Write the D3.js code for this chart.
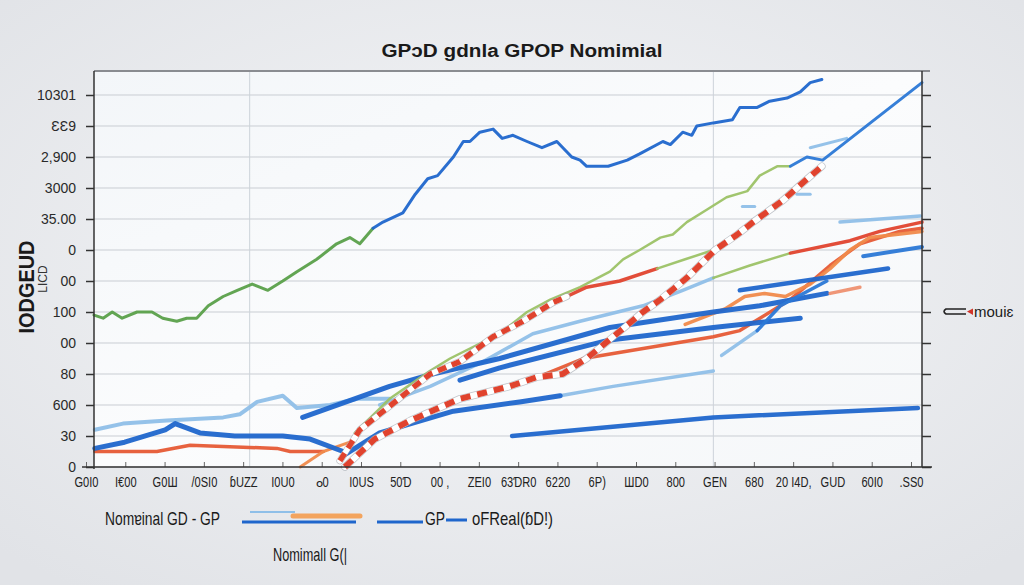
<!DOCTYPE html>
<html><head><meta charset="utf-8">
<script src="https://cdn.jsdelivr.net/npm/d3@7"></script>
<style>body{margin:0;background:#e8eaed}svg{display:block;font-family:"Liberation Sans",Arial,sans-serif}</style>
</head><body><svg id="c" width="1024" height="585"></svg>
<script>
// ---- data ----
const titleText = "GPↄD gdnla GPOP Nomimial";
const xLabels = ["G0I0","I€00","G0Ш","/0SI0","ɓUZZ","I0U0","ⴰ0","I0US","50Ɗ","00 ,","ZEI0","63ƊR0","6220","6P)","ШD0","800","GEN","680","20 I4D,","GUD","60I0",".SS0"];
const yLabels = ["0","30","600","80","00","100","00","0","35.00","3000","2,900","ƐƐ9","10301"];
const yTickValues = [0,10,20,30,40,50,60,70,80,90,100,110,120];
const vGridValues = [18.8, 74.8];

const greenMain = [[0,49],[1.1,48],[2.2,50],[3.4,48],[5.2,50],[7,50],[8.3,48],[10,47],[11.2,48],[12.4,48],[13.8,52],[15.6,55],[17.3,57],[19.1,59],[21,57],[22.8,60],[24.5,63],[26.9,67],[29.3,72],[30.9,74],[32.1,72],[33.7,77]];
const blueMain = [[33.7,77],[34.9,79],[37.3,82],[38.8,88],[40.3,93],[41.5,94],[43.4,100],[44.6,105],[45.4,105],[46.6,108],[48.2,109],[49.3,106],[50.6,107],[52.3,105],[54.1,103],[55.9,105],[57.7,100],[58.7,99],[59.5,97],[62.1,97],[64.4,99],[65.9,101],[68.7,105],[69.6,104],[71.1,108],[72.2,107],[72.8,110],[74.8,111],[77.1,112],[78,116],[80.1,116],[81.6,118],[83.7,119],[85.3,121],[86.5,124],[87.9,125]];
const lightGreen = [[31.5,11],[35.7,22],[40.6,31],[43,35],[49,43],[52.3,50],[55.1,54],[58.7,58],[62.3,63],[63.9,67],[65.9,70],[68.4,74],[69.9,75],[71.6,79],[74,83],[76.4,87],[78.9,89],[80.4,94],[82.5,97],[84.1,97]];
const blueRise = [[84.1,97],[86.1,100],[88,99],[100,124]];
const dashedBig = [[30.3,0],[33.9,9],[38.2,15],[44.2,22],[50.2,26],[53.5,29],[56.6,30],[59.5,35],[62.7,42],[66.3,50],[68.4,54],[71.6,61],[75,70],[77.7,75],[79.6,79],[83.2,86],[85.3,91],[87.9,97]];
const dashedSmall = [[29.7,2],[32.1,12],[37.3,23],[40.6,30],[44.2,34],[48.2,42],[51.8,47],[55.4,53],[57.1,55]];
const redMid = [[57.1,55],[59.5,58],[63.5,60],[68,64]];
const greenMid = [[68,64],[71.4,67],[74.8,70]];
const lightBlueMid = [[34.5,20],[40.6,26],[47,34],[53,43],[58.7,47],[66.3,52],[71.1,57],[74.8,61]];
const greenLow = [[74.8,61],[79.2,65],[84.1,69]];
const redRight = [[84.1,69],[91.3,73],[94.9,76],[100,79]];
const blueLeft = [[0.1,6],[3.7,8],[8.6,12],[9.8,14],[12.8,11],[17,10],[22.8,10],[26.1,9],[30.1,5]];
const lightBlueLeft = [[0.1,12],[3.5,14],[8.8,15],[15.6,16],[17.6,17],[19.7,21],[22.8,23],[24.5,19],[28.5,20],[31.8,22],[35.7,22]];
const blueUpper = [[25.2,16],[35.7,26],[40.9,30],[49,35],[62.3,45],[74.8,50],[80.4,52],[88.5,56]];
const salmonDash = [[88.9,56],[92.5,58]];
const blueSecond = [[44.2,28],[49,32],[62.3,41],[74.8,45],[85.3,48]];
const blueLower = [[30.3,4],[34.5,11],[43.4,18],[51.4,21],[56.3,23]];
const lightBlueLower = [[56.3,23],[62.7,26],[74.8,31]];
const blueBottom = [[50.5,10],[74.8,16],[99.5,19]];
const blueUpperRight = [[78,57],[95.9,64]];
const blueRight = [[92.9,68],[100,71]];
const lightBlueTop = [[90.1,79],[99.8,81]];
const lightBlueDiag = [[75.8,36],[80.1,44]];
const blueDiag = [[80.1,44],[82.9,52],[88.5,60]];
const redLow = [[0.1,5],[7.6,5],[11.6,7],[22.1,6],[23.7,5],[27.7,5]];
const orangeLow = [[24.9,0],[27.7,5],[30.9,8]];
const redOrange = [[45.4,23],[52.7,28],[59.1,35],[74.8,42],[78,44],[84.1,54],[88.9,65],[92.5,72],[97.3,76],[100,77]];
const orangeWavy = [[71.4,46],[76.2,51],[78.6,55],[81,56],[83.5,55],[86.5,59],[88.9,64],[91.3,70],[93.7,74],[100,76]];
const fragA = [[86.5,103],[90.9,106]];
const fragB = [[78.3,84],[79.8,84]];
const fragC = [[84.9,88],[86.5,88]];

// ---- styles ----
const C = {dblue:"#1f66cc", blue:"#2b78d6", lblue:"#8fbfe8", green:"#5aa04a", lgreen:"#9cc266", red:"#e0432e", orange:"#f08a4b", ored:"#e65a35", salmon:"#ee9070"};
const series = [
  {d: redLow, c: C.ored, w: 3.5},
  {d: orangeLow, c: C.orange, w: 3},
  {d: lightBlueLeft, c: C.lblue, w: 4},
  {d: blueLeft, c: C.dblue, w: 5},
  {d: blueBottom, c: C.dblue, w: 4.5},
  {d: lightBlueLower, c: C.lblue, w: 3.5},
  {d: blueLower, c: C.dblue, w: 5},
  {d: lightBlueMid, c: C.lblue, w: 3.5},
  {d: greenLow, c: C.lgreen, w: 2.5},
  {d: redRight, c: C.red, w: 3.5},
  {d: redOrange, c: C.ored, w: 3.5},
  {d: orangeWavy, c: C.orange, w: 3.5},
  {d: blueUpper, c: C.dblue, w: 5},
  {d: blueSecond, c: C.dblue, w: 5},
  {d: salmonDash, c: C.salmon, w: 3.5},
  {d: blueUpperRight, c: C.dblue, w: 4.5},
  {d: blueRight, c: C.blue, w: 4},
  {d: lightBlueTop, c: C.lblue, w: 3.5},
  {d: lightBlueDiag, c: C.lblue, w: 3.5},
  {d: blueDiag, c: C.blue, w: 3.5},
  {d: lightGreen, c: C.lgreen, w: 2.5},
  {d: redMid, c: C.red, w: 3.5},
  {d: greenMid, c: C.lgreen, w: 2.5},
  {d: fragA, c: C.lblue, w: 3},
  {d: fragB, c: C.lblue, w: 3},
  {d: fragC, c: C.lblue, w: 3},
  {d: dashedSmall, c: C.red, w: 5.5, dash: "9,6"},
  {d: dashedBig, c: C.red, w: 6, dash: "10,7"},
  {d: greenMain, c: C.green, w: 3},
  {d: blueMain, c: C.dblue, w: 3},
  {d: blueRise, c: C.blue, w: 3}
];

// ---- drawing ----
const svg = d3.select("#c");
const W = 1024, H = 585;
const L = 94, R = 922, T = 72, B = 467;
const x = d3.scaleLinear().domain([0,100]).range([L,R]);
const y = d3.scaleLinear().domain([0,120]).range([B,95]);
const xb = d3.scalePoint().domain(xLabels).range([86,911]);

const defs = svg.append("defs");
const rg = defs.append("radialGradient").attr("id","bg").attr("cx","50%").attr("cy","45%").attr("r","70%");
rg.append("stop").attr("offset","0%").attr("stop-color","#f5f6f8");
rg.append("stop").attr("offset","100%").attr("stop-color","#e1e3e7");
const pg = defs.append("linearGradient").attr("id","pg").attr("x1","0").attr("y1","0").attr("x2","1").attr("y2","1");
pg.append("stop").attr("offset","0%").attr("stop-color","#f3f6f9");
pg.append("stop").attr("offset","50%").attr("stop-color","#fbfcfd");
pg.append("stop").attr("offset","100%").attr("stop-color","#f5f7f9");

svg.append("rect").attr("width",W).attr("height",H).attr("fill","url(#bg)");
svg.append("rect").attr("x",L).attr("y",T).attr("width",R-L).attr("height",B-T).attr("fill","url(#pg)");

// title
svg.append("text").attr("x",522).attr("y",57).attr("text-anchor","middle")
  .attr("font-size",18).attr("font-weight",600).attr("fill","#1a1a1a")
  .attr("textLength",281).attr("lengthAdjust","spacingAndGlyphs").text(titleText);

// gridlines
svg.append("g").selectAll("line").data(yTickValues).join("line")
  .attr("x1",L).attr("x2",R).attr("y1",d=>y(d)).attr("y2",d=>y(d))
  .attr("stroke","#c9cdd3").attr("stroke-width",1);
svg.append("g").selectAll("line").data(vGridValues).join("line")
  .attr("x1",d=>x(d)).attr("x2",d=>x(d)).attr("y1",T).attr("y2",B)
  .attr("stroke","#cdd3da").attr("stroke-width",1);

// top line
svg.append("line").attr("x1",L).attr("x2",930).attr("y1",T-1).attr("y2",T-1).attr("stroke","#6a6d72").attr("stroke-width",1.5);

// series
const line = d3.line().x(d=>x(d[0])).y(d=>y(d[1]));
const sg = svg.append("g").attr("fill","none").attr("stroke-linecap","round").attr("stroke-linejoin","round");
series.forEach(s => {
  if (s.dash) {
    sg.append("path").attr("d",line(s.d)).attr("stroke","#9aa0a8").attr("stroke-opacity",0.6).attr("stroke-width",s.w+1.5);
    sg.append("path").attr("d",line(s.d)).attr("stroke","#ffffff").attr("stroke-width",s.w);
    sg.append("path").attr("d",line(s.d)).attr("stroke",s.c).attr("stroke-width",s.w).attr("stroke-dasharray",s.dash).attr("stroke-linecap","butt");
  } else {
    sg.append("path").attr("d",line(s.d)).attr("stroke",s.c).attr("stroke-width",s.w).attr("stroke-opacity",0.95);
  }
});

// axes
const yAxisL = d3.axisLeft(y).tickValues(yTickValues).tickFormat((d,i)=>yLabels[i]).tickSize(8).tickPadding(10);
const gl = svg.append("g").attr("transform",`translate(${L},0)`).call(yAxisL);
gl.select(".domain").remove();
gl.selectAll(".tick line").attr("stroke","#333").attr("stroke-width",1.5);
gl.selectAll(".tick text").attr("font-size",14).attr("fill","#2a2a2a").attr("font-family","'Liberation Sans',Arial,sans-serif");
svg.append("line").attr("x1",L).attr("x2",L).attr("y1",T-1).attr("y2",B+2).attr("stroke","#333").attr("stroke-width",1.5);

const yAxisR = d3.axisRight(y).tickValues(yTickValues).tickFormat("").tickSize(9);
const gr = svg.append("g").attr("transform",`translate(${R},0)`).call(yAxisR);
gr.select(".domain").remove();
gr.selectAll(".tick line").attr("stroke","#333").attr("stroke-width",1.5);
svg.append("line").attr("x1",R).attr("x2",R).attr("y1",T-1).attr("y2",B).attr("stroke","#333").attr("stroke-width",1.5);

const xAxis = d3.axisBottom(xb).tickSize(0).tickPadding(0);
const gx = svg.append("g").attr("transform",`translate(0,${B})`).call(xAxis);
gx.select(".domain").remove();
gx.selectAll(".tick text").remove();
gx.selectAll(".tick").append("line").attr("y1",0).attr("y2",-5).attr("stroke","#666").attr("stroke-width",1);
gx.selectAll(".tick").append("text")
  .attr("y",20).attr("text-anchor","middle").attr("font-size",15).attr("fill","#222")
  .attr("font-family","'Liberation Sans',Arial,sans-serif")
  .attr("transform","scale(0.74,1)").text(d=>d);
svg.append("line").attr("x1",L-12).attr("x2",932).attr("y1",B).attr("y2",B).attr("stroke","#333").attr("stroke-width",1.5);

// y-axis titles
svg.append("text").attr("transform","translate(34,287) rotate(-90)").attr("text-anchor","middle")
  .attr("font-size",22).attr("font-weight",700).attr("fill","#1a1a1a")
  .attr("textLength",93).attr("lengthAdjust","spacingAndGlyphs").text("IODGEUD");
svg.append("text").attr("transform","translate(47,279) rotate(-90)").attr("text-anchor","middle")
  .attr("font-size",12).attr("fill","#333").text("LICD");

// legend
const lg = svg.append("g");
lg.append("text").attr("x",105).attr("y",525).attr("font-size",19).attr("font-weight",500).attr("fill","#1a1a1a")
  .attr("textLength",115).attr("lengthAdjust","spacingAndGlyphs").text("Nomɐinal GD - GP");
lg.append("line").attr("x1",250).attr("x2",295).attr("y1",512).attr("y2",512).attr("stroke",C.lblue).attr("stroke-width",2);
lg.append("line").attr("x1",293).attr("x2",360).attr("y1",516).attr("y2",516).attr("stroke","#f3a45e").attr("stroke-width",5).attr("stroke-linecap","round");
lg.append("line").attr("x1",242).attr("x2",356).attr("y1",522).attr("y2",522).attr("stroke",C.dblue).attr("stroke-width",3);
lg.append("line").attr("x1",377).attr("x2",423).attr("y1",522).attr("y2",522).attr("stroke",C.dblue).attr("stroke-width",3);
lg.append("text").attr("x",425).attr("y",525).attr("font-size",19).attr("fill","#1a1a1a")
  .attr("textLength",20).attr("lengthAdjust","spacingAndGlyphs").text("GP");
lg.append("line").attr("x1",446).attr("x2",467).attr("y1",520).attr("y2",520).attr("stroke",C.dblue).attr("stroke-width",3);
lg.append("text").attr("x",472).attr("y",525).attr("font-size",19).attr("fill","#1a1a1a")
  .attr("textLength",81).attr("lengthAdjust","spacingAndGlyphs").text("oFReal(ɓD!)");
lg.append("text").attr("x",273).attr("y",561).attr("font-size",19).attr("fill","#1a1a1a")
  .attr("textLength",74).attr("lengthAdjust","spacingAndGlyphs").text("Nomimall G(|");

// right annotation
const ra = svg.append("g");
ra.append("path").attr("d","M966,309 H946 Q942,311.5 946,314 H966").attr("fill","none").attr("stroke","#222").attr("stroke-width",1.6);
ra.append("path").attr("d","M967,311.5 L973,308.5 L973,315 Z").attr("fill","#d0352a");
ra.append("text").attr("x",974).attr("y",317).attr("font-size",15).attr("fill","#1a1a1a").text("mouiɛ");
</script></body></html>
